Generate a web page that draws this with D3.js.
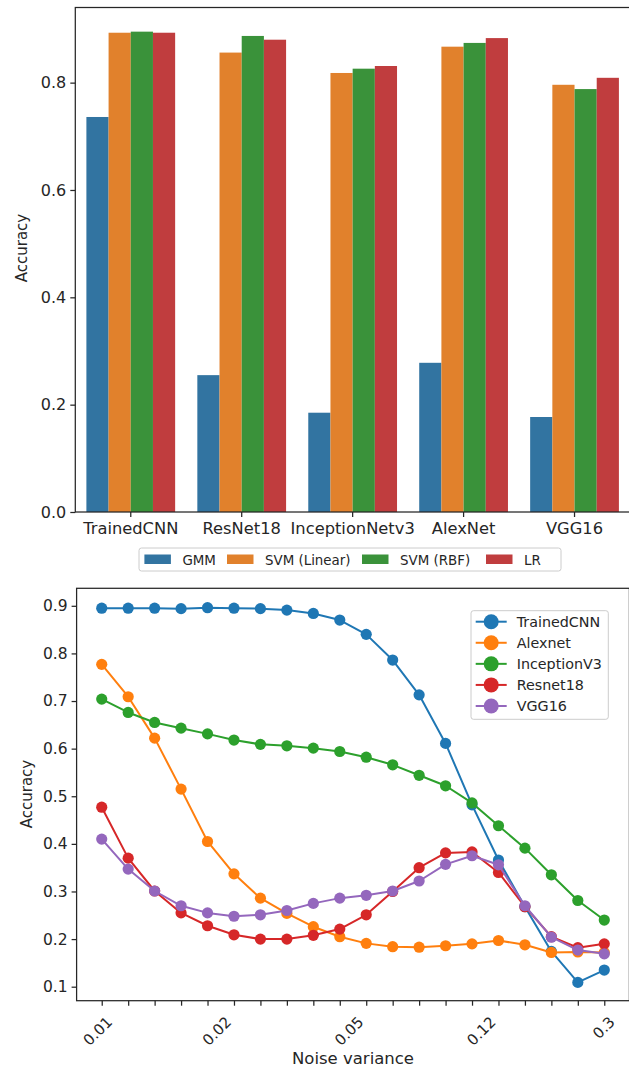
<!DOCTYPE html>
<html><head><meta charset="utf-8">
<script src="https://cdn.jsdelivr.net/npm/d3@7"></script>
<style>
html,body{margin:0;padding:0;background:#fff;}
svg{display:block;}
text{font-family:"DejaVu Sans",sans-serif;fill:#262626;}
</style></head>
<body>
<svg id="chart" width="629" height="1069"></svg>
<script>
// ---------- Top chart data ----------
const models = ["TrainedCNN","ResNet18","InceptionNetv3","AlexNet","VGG16"];
const classifiers = ["GMM","SVM (Linear)","SVM (RBF)","LR"];
const gmm       = [0.736, 0.255, 0.185, 0.278, 0.177];
const svmLinear = [0.893, 0.856, 0.818, 0.867, 0.796];
const svmRbf    = [0.895, 0.887, 0.826, 0.874, 0.788];
const lr        = [0.893, 0.880, 0.831, 0.883, 0.809];
const barColors = ["#3274a1","#e1812c","#3a923a","#c03d3e"];
const topYTicks = [0.0,0.2,0.4,0.6,0.8];

// ---------- Bottom chart data ----------
const nPoints = 20;
const xTickLabels = ["0.01","0.02","0.05","0.12","0.3"];
const xTickAt = [0, 4.5, 9.5, 14.5, 19]; // in point-index units
const seriesNames = ["TrainedCNN","Alexnet","InceptionV3","Resnet18","VGG16"];
const trainedCNN = [0.895,0.895,0.895,0.894,0.896,0.895,0.894,0.891,0.884,0.870,0.840,0.786,0.713,0.611,0.482,0.366,0.268,0.174,0.109,0.135];
const alexnet    = [0.777,0.709,0.622,0.515,0.405,0.337,0.286,0.254,0.226,0.205,0.191,0.184,0.183,0.186,0.190,0.197,0.188,0.172,0.173,0.172];
const inception  = [0.704,0.676,0.655,0.643,0.631,0.618,0.609,0.606,0.601,0.594,0.582,0.566,0.544,0.522,0.486,0.438,0.391,0.335,0.281,0.240];
const resnet18   = [0.477,0.370,0.301,0.255,0.228,0.209,0.200,0.200,0.208,0.221,0.251,0.300,0.350,0.381,0.383,0.340,0.268,0.205,0.182,0.190];
const vgg16      = [0.410,0.347,0.301,0.270,0.255,0.248,0.251,0.260,0.275,0.286,0.292,0.301,0.322,0.357,0.375,0.356,0.270,0.204,0.177,0.169];
const lineColors = ["#1f77b4","#ff7f0e","#2ca02c","#d62728","#9467bd"];
const botYTicks = [0.1,0.2,0.3,0.4,0.5,0.6,0.7,0.8,0.9];

const svg = d3.select("#chart");
const ink = "#262626";

// ================= TOP CHART =================
{
  const L = 75.3, R = 630, T = 7.5, B = 512;
  const x0 = d3.scaleBand().domain(models).range([L, R]);
  const x1 = d3.scaleBand().domain(classifiers).range([x0.bandwidth()*0.1, x0.bandwidth()*0.9]);
  const y = d3.scaleLinear().domain([0, 0.94]).range([B, T]);
  const table = [gmm, svmLinear, svmRbf, lr];
  const g = svg.append("g");

  models.forEach((m, i) => {
    classifiers.forEach((c, j) => {
      g.append("rect")
        .attr("x", x0(m) + x1(c))
        .attr("y", y(table[j][i]))
        .attr("width", x1.bandwidth())
        .attr("height", y(0) - y(table[j][i]))
        .attr("fill", barColors[j]);
    });
  });

  // frame
  g.append("rect").attr("x", L).attr("y", T).attr("width", R - L).attr("height", B - T)
    .attr("fill", "none").attr("stroke", ink).attr("stroke-width", 1.25);

  const yAx = g.append("g").attr("transform", `translate(${L},0)`)
    .call(d3.axisLeft(y).tickValues(topYTicks).tickFormat(d3.format(".1f")).tickSize(5).tickPadding(4));
  yAx.select(".domain").remove();
  yAx.selectAll("line").attr("stroke", ink).attr("stroke-width", 1.25);
  yAx.selectAll("text").attr("font-size", 16).attr("font-family", "DejaVu Sans").attr("fill", ink);

  const xAx = g.append("g").attr("transform", `translate(0,${B})`)
    .call(d3.axisBottom(x0).tickSize(5).tickPadding(5));
  xAx.select(".domain").remove();
  xAx.selectAll("line").attr("stroke", ink).attr("stroke-width", 1.25);
  xAx.selectAll("text").attr("font-size", 16.3).attr("font-family", "DejaVu Sans").attr("fill", ink);

  g.append("text").attr("transform", `translate(27,248) rotate(-90)`)
    .attr("text-anchor", "middle").attr("font-size", 15).text("Accuracy");

  // legend
  const lg = g.append("g");
  lg.append("rect").attr("x", 139).attr("y", 548).attr("width", 422).attr("height", 23)
    .attr("rx", 2.5).attr("fill", "#fff").attr("fill-opacity", 0.8).attr("stroke", "#cccccc").attr("stroke-width", 1);
  const legX = [144.4, 227, 362, 486];
  classifiers.forEach((c, j) => {
    lg.append("rect").attr("x", legX[j]).attr("y", 554.5).attr("width", 26.5).attr("height", 9.5).attr("fill", barColors[j]);
    lg.append("text").attr("x", legX[j] + 38).attr("y", 564.5).attr("font-size", 13.4).text(c);
  });
}

// ================= BOTTOM CHART =================
{
  const L = 76.6, R = 629.4, T = 588.3, B = 1000.7;
  const x = d3.scaleLinear().domain([-0.95, nPoints - 1 + 0.95]).range([L, R]);
  const y = d3.scaleLinear().domain([0.1, 0.9]).range([986.7, 605.8]);
  const g = svg.append("g");
  const all = [trainedCNN, alexnet, inception, resnet18, vgg16];

  // frame
  g.append("rect").attr("x", L).attr("y", T).attr("width", R - L).attr("height", B - T)
    .attr("fill", "none").attr("stroke", ink).attr("stroke-width", 1.25);

  const line = d3.line().x((d, i) => x(i)).y(d => y(d));
  all.forEach((s, k) => {
    g.append("path").datum(s).attr("d", line).attr("fill", "none")
      .attr("stroke", lineColors[k]).attr("stroke-width", 2).attr("stroke-linejoin", "round");
    g.selectAll(null).data(s).enter().append("circle")
      .attr("cx", (d, i) => x(i)).attr("cy", d => y(d)).attr("r", 5.6)
      .attr("fill", lineColors[k]);
  });

  const yAx = g.append("g").attr("transform", `translate(${L},0)`)
    .call(d3.axisLeft(y).tickValues(botYTicks).tickFormat(d3.format(".1f")).tickSize(5).tickPadding(4));
  yAx.select(".domain").remove();
  yAx.selectAll("line").attr("stroke", ink).attr("stroke-width", 1.25);
  yAx.selectAll("text").attr("font-size", 15.5).attr("font-family", "DejaVu Sans").attr("fill", ink);

  const xAx = g.append("g").attr("transform", `translate(0,${B})`)
    .call(d3.axisBottom(x).tickValues(d3.range(nPoints)).tickFormat("").tickSize(5));
  xAx.select(".domain").remove();
  xAx.selectAll("line").attr("stroke", ink).attr("stroke-width", 1.25);

  xTickLabels.forEach((lab, i) => {
    const px = x(xTickAt[i]) + 11.5, py = 1023;
    g.append("text").attr("transform", `translate(${px},${py}) rotate(-45)`)
      .attr("text-anchor", "end").attr("font-family", "Open Sans").attr("font-size", 15).text(lab);
  });

  g.append("text").attr("x", 353).attr("y", 1064).attr("text-anchor", "middle")
    .attr("font-family", "Open Sans").attr("font-size", 16.5).text("Noise variance");

  g.append("text").attr("transform", `translate(32,794) rotate(-90)`)
    .attr("text-anchor", "middle").attr("font-size", 15).text("Accuracy");

  // legend
  const lg = g.append("g");
  lg.append("rect").attr("x", 471).attr("y", 610.7).attr("width", 137.3).attr("height", 108.6)
    .attr("rx", 2.5).attr("fill", "#fff").attr("fill-opacity", 0.8).attr("stroke", "#cccccc").attr("stroke-width", 1);
  const rowY = d3.scaleLinear().domain([0, 4]).range([621.7, 706]);
  seriesNames.forEach((n, k) => {
    const yy = rowY(k);
    lg.append("line").attr("x1", 475.7).attr("x2", 506.7).attr("y1", yy).attr("y2", yy)
      .attr("stroke", lineColors[k]).attr("stroke-width", 2);
    lg.append("circle").attr("cx", 491.2).attr("cy", yy).attr("r", 7.5).attr("fill", lineColors[k]);
    lg.append("text").attr("x", 516.7).attr("y", yy + 5.2).attr("font-size", 14.3).text(n);
  });
}
</script>
</body></html>
